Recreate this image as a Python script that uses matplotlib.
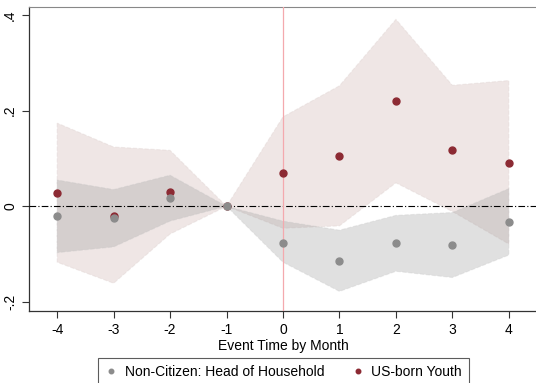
import numpy as np
import matplotlib.pyplot as plt

plt.rcParams['font.family'] = ['Liberation Sans', 'DejaVu Sans']

# event time and estimates
months = [-4, -3, -2, -1, 0, 1, 2, 3, 4]

head_coef = [-0.021, -0.025, 0.017, 0.0, -0.076, -0.114, -0.077, -0.081, -0.032]
head_lo = [-0.097, -0.085, -0.031, 0.0, -0.117, -0.178, -0.136, -0.149, -0.102]
head_hi = [0.055, 0.035, 0.065, 0.0, -0.031, -0.050, -0.019, -0.013, 0.037]

youth_coef = [0.028, -0.020, 0.030, 0.0, 0.069, 0.106, 0.221, 0.117, 0.091]
youth_lo = [-0.117, -0.161, -0.058, 0.0, -0.046, -0.041, 0.049, -0.011, -0.079]
youth_hi = [0.174, 0.124, 0.117, 0.0, 0.187, 0.252, 0.391, 0.253, 0.263]

xtick_labels = ['-4', '-3', '-2', '-1', '0', '1', '2', '3', '4']
ytick_vals = [-0.2, 0.0, 0.2, 0.4]
ytick_labels = ['-.2', '0', '.2', '.4']

fig = plt.figure(figsize=(5.36, 3.83), dpi=100)
ax = fig.add_axes([0.054, 0.188, 0.948, 0.794])

# confidence bands
ax.fill_between(months, youth_lo, youth_hi, color='#caafac', alpha=0.3,
                edgecolor='#d8c8c6', linestyle='--', linewidth=0.8, zorder=1)
ax.fill_between(months, head_lo, head_hi, color='#9b9b9b', alpha=0.3,
                edgecolor='#c4c4c4', linestyle='--', linewidth=0.8, zorder=2)

# reference lines
ax.axhline(0, color='black', linewidth=0.8, dashes=(6, 2, 1, 2), zorder=3)
ax.axvline(0, color='#f4a9ae', linewidth=0.9, zorder=3)

# point estimates (youth first so head-of-household dots sit on top)
youth_pts, = ax.plot(months, youth_coef, 'o', color='#8c2a33', markersize=5,
                     label='US-born Youth', zorder=4)
head_pts, = ax.plot(months, head_coef, 'o', color='#8c8c8c', markersize=5,
                    label='Non-Citizen: Head of Household', zorder=5)

ax.set_xlim(-4.5, 4.5)
ax.set_ylim(-0.219, 0.417)
ax.set_xticks(months)
ax.set_xticklabels(xtick_labels)
ax.set_yticks(ytick_vals)
ax.set_yticklabels(ytick_labels, rotation=90, va='center')
ax.tick_params(labelsize=10, length=5, width=0.8, color='#333333')
ax.tick_params(axis='x', pad=4)
ax.set_xlabel('Event Time by Month', fontsize=10, labelpad=1)

for side in ['left', 'bottom']:
    ax.spines[side].set_color('#333333')
    ax.spines[side].set_linewidth(0.9)
for side in ['top', 'right']:
    ax.spines[side].set_color('#888888')
    ax.spines[side].set_linewidth(0.8)

leg = fig.legend(handles=[head_pts, youth_pts], loc='upper center',
                 bbox_to_anchor=(0.529, 0.065), borderaxespad=0, ncol=2,
                 fontsize=10, frameon=True, fancybox=False, markerscale=0.65,
                 handlelength=0.9, handletextpad=0.5, columnspacing=2.0,
                 borderpad=0.5)
leg.get_frame().set_edgecolor('#333333')
leg.get_frame().set_linewidth(0.8)

plt.savefig('out.png', dpi=100)
